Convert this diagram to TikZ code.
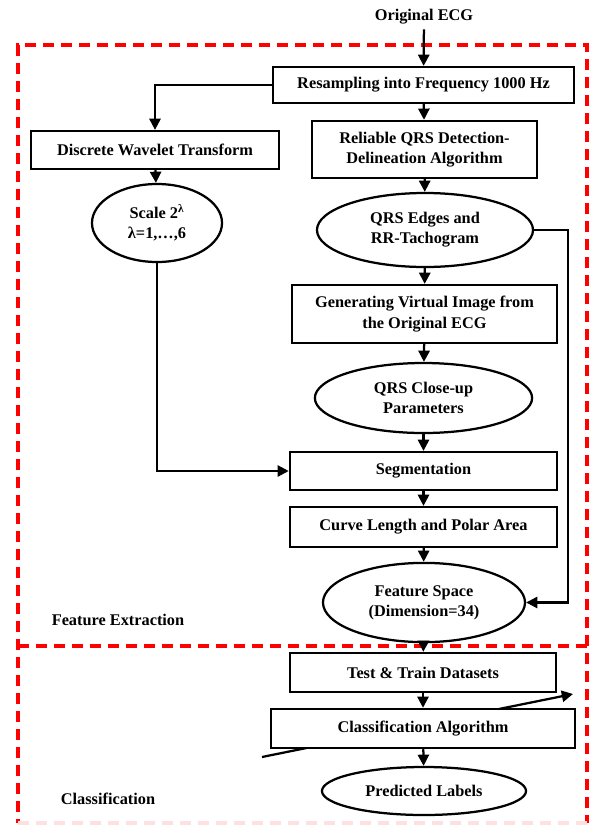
\documentclass[tikz,border=0pt]{standalone}
\usepackage{fontspec}
\setmainfont{Liberation Serif}
\usetikzlibrary{arrows.meta,shapes.geometric}

\begin{document}
\begin{tikzpicture}[
    x=0.025cm,y=-0.025cm,
    every node/.style={font=\fontsize{11.6}{14.4}\selectfont\bfseries,align=center},
    stepbox/.style={rectangle,draw,line width=1.6pt,fill=white,inner sep=0pt},
    result/.style={ellipse,draw,line width=1.6pt,fill=white,inner sep=0pt},
    arr/.style={line width=1.6pt,-{Triangle[length=0.28cm,width=0.28cm]}},
    region/.style={red,line width=2.4pt,dash pattern=on 7.8pt off 5pt}
]
\useasboundingbox (0,0) rectangle (589,825);

% dashed regions
\draw[region] (587,646) -- (587,45) -- (18,45) -- (18,823);
\draw[region] (18,646) -- (587,646) -- (587,823);
\draw[region,red!12] (18,823) -- (587,823);
\node (fe) at (118,620) {Feature Extraction};
\node (cl) at (108,799) {Classification};

% left branch
\node (orig) at (424,17) {Original ECG};
\node[stepbox,minimum width=7.53cm,minimum height=0.9cm]  (res) at (423.5,85) {Resampling into Frequency 1000 Hz};
\node[stepbox,minimum width=6.18cm,minimum height=0.95cm] (dwt) at (155,150) {Discrete Wavelet Transform};
\node[result,minimum width=3.25cm,minimum height=1.95cm]  (scl) at (157,223) {Scale 2\textsuperscript{λ}\\λ=1,…,6};

% main column
\node[stepbox,minimum width=5.63cm,minimum height=1.43cm] (det) at (424.5,149.5) {Reliable QRS Detection-\\Delineation Algorithm};
\node[result,minimum width=5.4cm,minimum height=1.85cm]   (edg) at (425,230) {QRS Edges and\\RR-Tachogram};
\node[stepbox,minimum width=6.63cm,minimum height=1.45cm] (gen) at (424.5,314) {Generating Virtual Image from\\the Original ECG};
\node[result,minimum width=5.43cm,minimum height=1.75cm]  (cup) at (423.5,398) {QRS Close-up\\Parameters};
\node[stepbox,minimum width=6.68cm,minimum height=0.95cm] (seg) at (423.5,471) {Segmentation};
\node[stepbox,minimum width=6.68cm,minimum height=1.0cm]  (cur) at (423.5,527) {Curve Length and Polar Area};
\node[result,minimum width=5.05cm,minimum height=1.98cm]  (fsp) at (424,602.5) {Feature Space\\(Dimension=34)};

% classification
\node[stepbox,minimum width=6.65cm,minimum height=0.98cm] (tt) at (423,672.5) {Test \& Train Datasets};
\coordinate (cin)  at (262,757);
\coordinate (cout) at (573,694);
\draw[arr] (cin) -- (cout);
\node[stepbox,minimum width=7.6cm,minimum height=0.98cm]  (alg) at (423,728.5) {Classification Algorithm};
\node[result,minimum width=5.1cm,minimum height=1.2cm]    (prd) at (424,791) {Predicted Labels};

\coordinate (rx) at (568,0);

\draw[arr] (orig) -- (res);
\draw[arr] (res.west) -| (dwt.north);
\draw[arr] (dwt) -- (scl);
\draw[arr] (scl.south) |- (seg.west);
\draw[arr] (res) -- (det);
\draw[arr] (det) -- (edg);
\draw[arr] (edg) -- (gen);
\draw[arr] (gen) -- (cup);
\draw[arr] (cup) -- (seg);
\draw[arr] (seg) -- (cur);
\draw[arr] (cur) -- (fsp);
\draw[arr] (edg.east) -- (edg.east -| rx) -- (fsp.east -| rx) -- (fsp.east);
\draw[arr] (fsp) -- (tt);
\draw[arr] (tt) -- (alg);
\draw[arr] (alg) -- (prd);
\end{tikzpicture}
\end{document}
